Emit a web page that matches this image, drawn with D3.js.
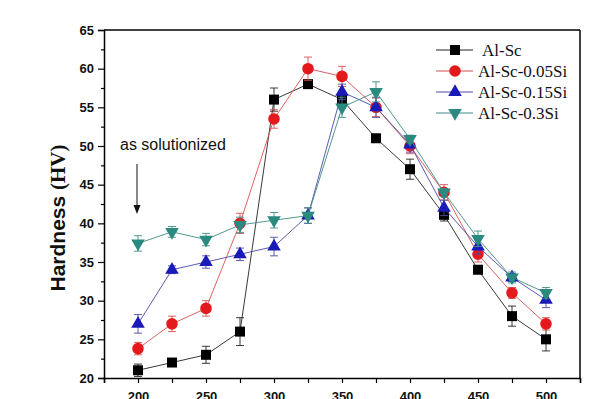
<!DOCTYPE html>
<html lang="en">
<head>
<meta charset="utf-8">
<title>hardness</title>
<script src="https://cdn.jsdelivr.net/npm/d3@7"></script>
<style>
  body { margin: 0; background: #fff; }
  .tick text { font-family: Arial, "Liberation Sans", sans-serif; font-weight: bold; font-size: 13px; }
</style>
</head>
<body>
<svg width="610" height="399"></svg>
<script>
// aging temperature (C)
var temps = [200, 225, 250, 275, 300, 325, 350, 375, 400, 425, 450, 475, 500];

var seriesNames = ["Al-Sc", "Al-Sc-0.05Si", "Al-Sc-0.15Si", "Al-Sc-0.3Si"];

var alSc      = [21, 22, 23, 26, 56, 58, 56, 51, 47, 41.1, 34, 28, 25];
var alSc005   = [23.8, 27, 29, 40, 53.5, 60, 59, 55, 50, 44, 36, 31, 27];
var alSc015   = [27, 34, 35, 36, 37, 41, 57, 55, 50.2, 42, 37, 33, 30.1];
var alSc03    = [37.4, 38.9, 37.9, 39.8, 40.4, 41, 55, 57, 50.9, 44, 38, 33, 31];

var errSc     = [0.8, 0.5, 1.1, 1.8, 1.5, 0.5, 1, 0.3, 1.3, 0.8, 0.5, 1.3, 1.5];
var err005    = [0.8, 1, 1, 1.3, 1.2, 1.5, 1.3, 1.2, 1, 1, 1, 0.7, 0.8];
var err015    = [1.2, 0.5, 0.8, 0.8, 1.2, 1, 1, 1.3, 1, 1, 1, 0.5, 1];
var err03     = [1, 0.7, 0.8, 1, 1, 1, 1.3, 1.3, 0.5, 0.5, 1, 0.7, 0.7];

var yTicks = [20, 25, 30, 35, 40, 45, 50, 55, 60, 65];
var xTicks = [200, 250, 300, 350, 400, 450, 500];

var svg = d3.select("svg");
var pLeft = 104, pRight = 580, pTop = 30, pBottom = 378;

var x = d3.scaleLinear().domain([175, 525]).range([pLeft, pRight]);
var y = d3.scaleLinear().domain([20, 65]).range([pBottom, pTop]);

var styles = [
  {fill: "#000", line: "#222", shape: d3.symbolSquare, size: 100, rot: 0},
  {fill: "#e3191c", line: "#d85050", shape: d3.symbolCircle, size: 105, rot: 0},
  {fill: "#1a1ab8", line: "#4a4aa8", shape: d3.symbolTriangle, size: 80, rot: 0},
  {fill: "#2a8a80", line: "#3f8c86", shape: d3.symbolTriangle, size: 80, rot: 180}
];
var values = [alSc, alSc005, alSc015, alSc03];
var errors = [errSc, err005, err015, err03];

// frame
svg.append("line").attr("x1", pLeft).attr("x2", pRight).attr("y1", pTop).attr("y2", pTop)
  .attr("stroke", "#000").attr("stroke-width", 1.5);
svg.append("line").attr("x1", pRight).attr("x2", pRight).attr("y1", pTop).attr("y2", pBottom)
  .attr("stroke", "#000").attr("stroke-width", 1.5);

// axes
svg.append("g").attr("transform", "translate(" + pLeft + ",0)")
  .call(d3.axisLeft(y).tickValues(yTicks).tickSize(6).tickPadding(4));
svg.append("g").attr("transform", "translate(" + pLeft + ",0)")
  .call(d3.axisLeft(y).tickValues(d3.range(22.5, 65, 5)).tickSize(3).tickFormat(""))
  .select(".domain").remove();

svg.append("g").attr("transform", "translate(0," + pBottom + ")")
  .call(d3.axisBottom(x).tickValues(xTicks).tickSize(5).tickPadding(9));
svg.append("g").attr("transform", "translate(0," + pBottom + ")")
  .call(d3.axisBottom(x).tickValues([175, 225, 275, 325, 375, 425, 475, 525]).tickSize(5).tickFormat(""))
  .select(".domain").remove();

svg.selectAll(".domain").attr("stroke-width", 1.5);
svg.selectAll(".tick line").attr("stroke-width", 1.2);
svg.selectAll(".tick text").attr("fill", "#111");

// series
var line = d3.line().x(function(d, i) { return x(temps[i]); }).y(function(d) { return y(d); });

values.forEach(function(vals, s) {
  var st = styles[s];
  var g = svg.append("g");
  g.append("path").datum(vals).attr("d", line)
    .attr("fill", "none").attr("stroke", st.line).attr("stroke-width", 0.9);

  g.selectAll(".err").data(vals).enter().append("path")
    .attr("d", function(d, i) {
      var cx = x(temps[i]), e = errors[s][i];
      var y1 = y(d + e), y2 = y(d - e);
      return "M" + (cx - 4) + "," + y1 + "H" + (cx + 4) +
             "M" + cx + "," + y1 + "V" + y2 +
             "M" + (cx - 4) + "," + y2 + "H" + (cx + 4);
    })
    .attr("stroke", st.line).attr("stroke-width", 0.9).attr("fill", "none");

  g.selectAll(".mk").data(vals).enter().append("path")
    .attr("d", d3.symbol().type(st.shape).size(st.size))
    .attr("transform", function(d, i) {
      return "translate(" + x(temps[i]) + "," + y(d) + ") rotate(" + st.rot + ")";
    })
    .attr("fill", st.fill);
});

// legend
var lg = svg.append("g");
seriesNames.forEach(function(name, s) {
  var st = styles[s];
  var ly = 50 + s * 21;
  lg.append("line").attr("x1", 436).attr("x2", 473).attr("y1", ly).attr("y2", ly)
    .attr("stroke", st.line).attr("stroke-width", 1);
  lg.append("path").attr("d", d3.symbol().type(st.shape).size(st.size))
    .attr("transform", "translate(455," + ly + ") rotate(" + st.rot + ")")
    .attr("fill", st.fill);
  lg.append("text").attr("x", s === 0 ? 482 : 478).attr("y", ly + 6)
    .style("font-family", "'Times New Roman', 'Liberation Serif', serif")
    .style("font-size", "17px").attr("fill", "#111")
    .text(name);
});

// annotation
svg.append("text").attr("x", 120).attr("y", 150)
  .style("font-family", "Arial, 'Liberation Sans', sans-serif").style("font-size", "16px")
  .attr("fill", "#111").text("as solutionized");
svg.append("line").attr("x1", 137).attr("x2", 137).attr("y1", 164).attr("y2", 207)
  .attr("stroke", "#111").attr("stroke-width", 1);
svg.append("path").attr("d", "M133.5,205 L137,214 L140.5,205 Z").attr("fill", "#111");

// y label
var yl = svg.append("text")
  .attr("transform", "translate(65,218) rotate(-90)")
  .attr("text-anchor", "middle").attr("fill", "#111");
yl.append("tspan").text("Hardness ")
  .style("font-family", "Arial, 'Liberation Sans', sans-serif").style("font-weight", "bold").style("font-size", "21px");
yl.append("tspan").text("(HV)")
  .style("font-family", "'Times New Roman', 'Liberation Serif', serif").style("font-weight", "bold").style("font-size", "21px");
</script>
</body>
</html>
